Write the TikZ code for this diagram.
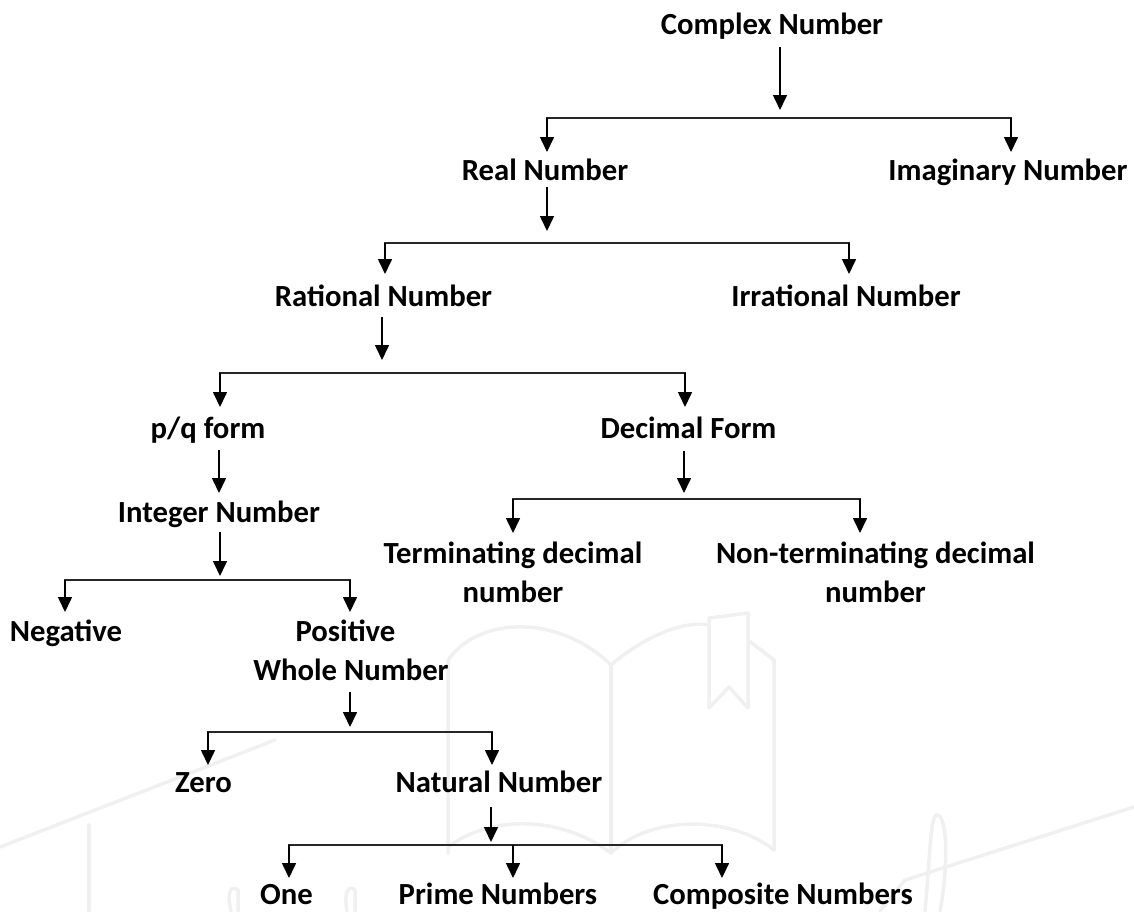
\documentclass[tikz,border=0pt]{standalone}
\usepackage{fontspec}
\setmainfont{Carlito}
\usetikzlibrary{arrows.meta}
\tikzset{
  lbl/.style={anchor=base,inner sep=0pt,outer sep=0pt,font=\fontsize{30.7}{38.5}\selectfont\bfseries,text=black},
  arr/.style={line width=1.6pt,draw=black,-{Triangle[length=15pt,width=14pt]}},
  barline/.style={line width=2pt,draw=black!85,line cap=rect},
  wm/.style={line width=3.5pt,draw=black!6,line cap=round,line join=round}
}
\begin{document}
\begin{tikzpicture}[x=1pt,y=-1pt]
\useasboundingbox (0,0) rectangle (1134,911);
% watermark
\draw[wm] (448,853) -- (448,660) .. controls (480,615) and (560,615) .. (611,665) .. controls (640,640) and (680,620) .. (709,625);
\draw[wm] (709,708) -- (709,618) -- (748,613) -- (748,708) -- (729,687) -- cycle;
\draw[wm] (748,640) -- (774,660) -- (774,850);
\draw[wm] (611,665) -- (611,853);
\draw[wm] (448,847) .. controls (490,815) and (560,815) .. (611,853) .. controls (650,815) and (730,815) .. (774,850);
\draw[wm] (0,847) -- (275,740);
\draw[wm] (1134,807) -- (905,880) -- (880,911);
\draw[wm] (89,825) -- (89,911);
\draw[wm] (231,911) .. controls (226,890) and (232,885) .. (238,890) -- (238,911);
\draw[wm] (347,911) .. controls (343,890) and (350,885) .. (355,890) -- (355,911);
\draw[wm] (925,911) .. controls (930,860) and (930,815) .. (937,815) .. controls (948,815) and (948,870) .. (940,911);
% labels
\node[lbl,text height=21pt,text depth=13pt] (cn) at (772,34) {Complex Number};
\node[lbl,text height=28pt,text depth=7pt] (rn) at (545,180) {Real Number};
\node[lbl,text height=28pt,text depth=7pt] (im) at (1008,180) {Imaginary Number};
\node[lbl,text height=32pt,text depth=11pt] (ra) at (383.5,306) {Rational Number};
\node[lbl,text height=32pt,text depth=11pt] (ir) at (846,306) {Irrational Number};
\node[lbl,text height=31pt,text depth=12pt] (pq) at (208,438) {p/q form};
\node[lbl,text height=31pt,text depth=13pt] (de) at (688.5,438) {Decimal Form};
\node[lbl,text height=29pt,text depth=10pt] (in) at (219,522) {Integer Number};
\node[lbl,inner ysep=9pt,align=center,anchor=north] (te) at (513,533) {Terminating decimal\\number};
\node[lbl,inner ysep=9pt,align=center,anchor=north] (no) at (875.5,533) {Non-terminating decimal\\number};
\node[lbl,text height=29pt,text depth=8pt] (ne) at (66,641) {Negative};
\node[lbl,text height=29pt,text depth=8pt] (po) at (345.5,641) {Positive};
\node[lbl,text height=20pt,text depth=12pt] (wh) at (351,680) {Whole Number};
\node[lbl,text height=27pt,text depth=8pt] (ze) at (203.5,792) {Zero};
\node[lbl,text height=27pt,text depth=15pt] (na) at (499,792) {Natural Number};
\node[lbl,text height=26pt,text depth=7pt] (on) at (286.5,904) {One};
\node[lbl,text height=26pt,text depth=7pt] (pr) at (498,904) {Prime Numbers};
\node[lbl,text height=26pt,text depth=7pt] (co) at (783,904) {Composite Numbers};
% junctions
\coordinate (t1) at (780,110); \coordinate (l1) at (547,118); \coordinate (r1) at (1011,118);
\coordinate (t2) at (547,231); \coordinate (l2) at (385,243); \coordinate (r2) at (849,243);
\coordinate (t3) at (382,360); \coordinate (l3) at (220,373); \coordinate (r3) at (685,373);
\coordinate (t4) at (684,493); \coordinate (l4) at (513,499); \coordinate (r4) at (860,499);
\coordinate (t5) at (220,576); \coordinate (l5) at (65,580); \coordinate (r5) at (350,580);
\coordinate (t6) at (350,727); \coordinate (l6) at (208,732); \coordinate (r6) at (492,732);
\coordinate (t7) at (491,842); \coordinate (l7) at (289,845); \coordinate (m7) at (513,845); \coordinate (r7) at (722,845);
% connectors
\draw[arr] (cn.south -| t1) -- (t1);
\draw[barline] (l1) -- (r1);
\draw[arr] (l1) -- (rn.north -| l1);
\draw[arr] (r1) -- (im.north -| r1);
\draw[arr] (rn.south -| t2) -- (t2);
\draw[barline] (l2) -- (r2);
\draw[arr] (l2) -- (ra.north -| l2);
\draw[arr] (r2) -- (ir.north -| r2);
\draw[arr] (ra.south -| t3) -- (t3);
\draw[barline] (l3) -- (r3);
\draw[arr] (l3) -- (pq.north -| l3);
\draw[arr] (r3) -- (de.north -| r3);
\draw[arr] (pq.south -| in.north) -- (in.north);
\draw[arr] (de.south -| t4) -- (t4);
\draw[barline] (l4) -- (r4);
\draw[arr] (l4) -- (te.north -| l4);
\draw[arr] (r4) -- (no.north -| r4);
\draw[arr] (in.south -| t5) -- (t5);
\draw[barline] (l5) -- (r5);
\draw[arr] (l5) -- (ne.north -| l5);
\draw[arr] (r5) -- (po.north -| r5);
\draw[arr] (wh.south -| t6) -- (t6);
\draw[barline] (l6) -- (r6);
\draw[arr] (l6) -- (ze.north -| l6);
\draw[arr] (r6) -- (na.north -| r6);
\draw[arr] (na.south -| t7) -- (t7);
\draw[barline] (l7) -- (r7);
\draw[arr] (l7) -- (on.north -| l7);
\draw[arr] (m7) -- (pr.north -| m7);
\draw[arr] (r7) -- (co.north -| r7);
\end{tikzpicture}
\end{document}
